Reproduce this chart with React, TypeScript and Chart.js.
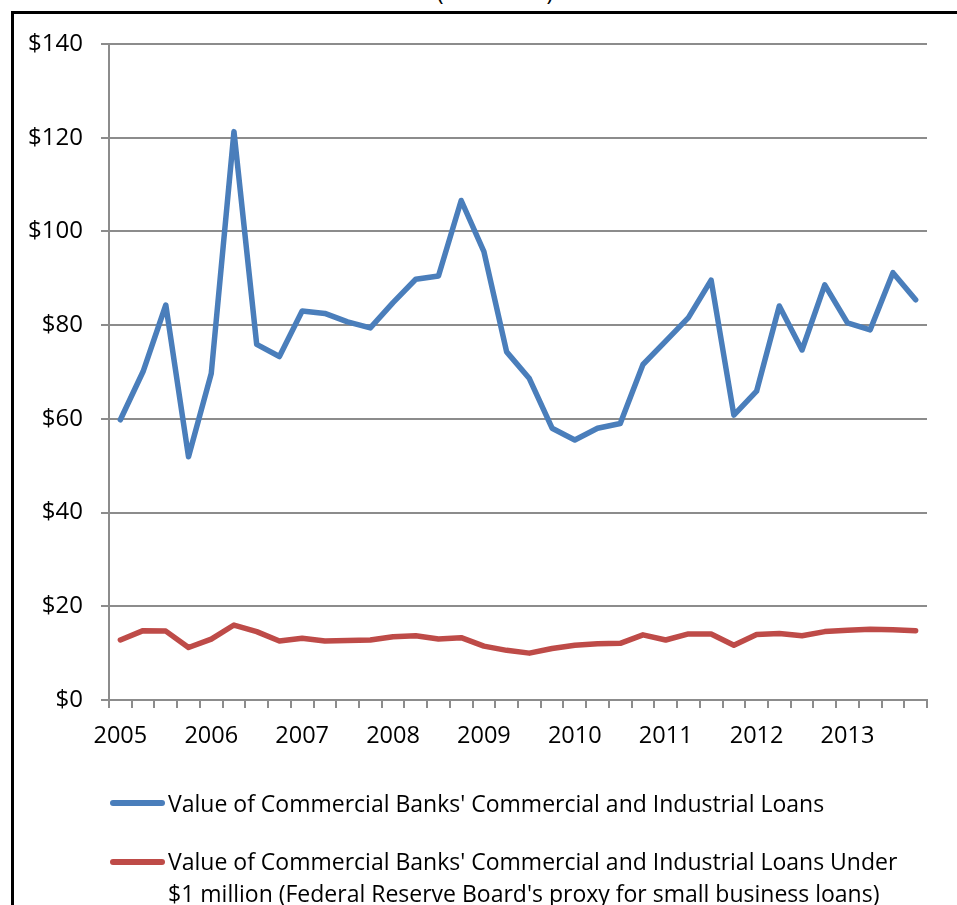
import React, { useEffect, useRef } from "react";
import { Chart, registerables } from "chart.js";

Chart.register(...registerables);

const years = ["2005", "2006", "2007", "2008", "2009", "2010", "2011", "2012", "2013"];
const quarters = ["Q1", "Q2", "Q3", "Q4"];

// Billions of dollars, quarterly 2005 Q1 – 2013 Q4
const allLoans = [
  59.8, 70.1, 84.3, 51.9, 69.7, 121.3, 75.9, 73.3,
  83.0, 82.5, 80.7, 79.4, 84.8, 89.8, 90.5, 106.6,
  95.7, 74.3, 68.6, 58.0, 55.5, 58.0, 59.0, 71.6,
  76.6, 81.6, 89.6, 60.8, 65.9, 84.1, 74.7, 88.6,
  80.5, 79.0, 91.2, 85.4,
];
const smallLoans = [
  12.8, 14.8, 14.7, 11.2, 13.0, 16.0, 14.6, 12.6,
  13.2, 12.6, 12.7, 12.8, 13.5, 13.7, 13.0, 13.3,
  11.5, 10.6, 10.0, 11.0, 11.7, 12.0, 12.1, 13.9,
  12.8, 14.1, 14.1, 11.7, 14.0, 14.2, 13.7, 14.6,
  14.9, 15.1, 15.0, 14.8,
];

const seriesNames = [
  "Value of Commercial Banks' Commercial and Industrial Loans",
  "Value of Commercial Banks' Commercial and Industrial Loans Under",
  "$1 million (Federal Reserve Board's proxy for small business loans)",
];
const titleText = "(in Billions)";

const BLUE = "#4A7EBB";
const RED = "#BE4B48";
const GRID = "#8c8c8c";
const FONT = "'Open Sans', sans-serif";

const categories = years.flatMap((y) => quarters.map((q) => `${y} ${q}`));

export default function App() {
  const ref = useRef<HTMLCanvasElement | null>(null);

  useEffect(() => {
    if (!ref.current) return;
    const chart = new Chart(ref.current, {
      type: "line",
      data: {
        labels: categories,
        datasets: [
          {
            label: seriesNames[0],
            data: allLoans,
            borderColor: BLUE,
            backgroundColor: BLUE,
            borderWidth: 5.5,
            pointRadius: 0,
            tension: 0,
            borderCapStyle: "round",
            borderJoinStyle: "round",
          },
          {
            label: seriesNames[1] + " " + seriesNames[2],
            data: smallLoans,
            borderColor: RED,
            backgroundColor: RED,
            borderWidth: 5.5,
            pointRadius: 0,
            tension: 0,
            borderCapStyle: "round",
            borderJoinStyle: "round",
          },
        ],
      },
      options: {
        animation: false,
        responsive: false,
        maintainAspectRatio: false,
        layout: { padding: { left: 0, top: 44, right: 30, bottom: 145 } },
        plugins: {
          legend: { display: false },
          tooltip: { enabled: false },
          title: { display: false },
        },
        scales: {
          x: {
            type: "category",
            offset: true,
            grid: {
              offset: true,
              drawOnChartArea: false,
              drawTicks: true,
              tickLength: 8,
              tickColor: GRID,
              lineWidth: 2,
            },
            border: { display: true, color: GRID, width: 2 },
            ticks: {
              autoSkip: false,
              maxRotation: 0,
              minRotation: 0,
              padding: 14,
              color: "#000",
              font: { family: FONT, size: 23.5 },
              callback: (_v: any, i: number) => (i % 4 === 0 ? years[i / 4] : ""),
            },
            afterFit: (s: any) => {
              s.height = 60;
            },
          },
          y: {
            min: 0,
            max: 140,
            grid: {
              color: GRID,
              lineWidth: 2,
              drawTicks: true,
              tickLength: 8,
              tickColor: GRID,
            },
            border: { display: true, color: GRID, width: 2 },
            ticks: {
              stepSize: 20,
              padding: 18,
              color: "#000",
              font: { family: FONT, size: 24 },
              callback: (v: any) => "$" + v,
            },
            afterFit: (s: any) => {
              s.width = 109;
            },
          },
        },
      },
    });
    return () => chart.destroy();
  }, []);

  const textStyle: React.CSSProperties = {
    position: "absolute",
    left: 168,
    fontFamily: FONT,
    fontSize: 23,
    lineHeight: "32px",
    color: "#000",
    whiteSpace: "nowrap",
  };
  const swatch = (color: string, top: number): React.CSSProperties => ({
    position: "absolute",
    left: 110,
    top: top - 3,
    width: 55,
    height: 6,
    borderRadius: 3,
    background: color,
  });

  return (
    <div
      style={{
        position: "absolute",
        left: 0,
        top: 0,
        width: 957,
        height: 905,
        overflow: "hidden",
        background: "#fff",
      }}
    >
      <div
        style={{
          position: "absolute",
          left: 0,
          width: 990,
          top: -25,
          textAlign: "center",
          fontFamily: FONT,
          fontSize: 23,
          lineHeight: "32px",
          color: "#000",
        }}
      >
        {titleText}
      </div>
      <div
        style={{
          position: "absolute",
          left: 11,
          top: 11,
          width: 2000,
          height: 2000,
          border: "3px solid #000",
        }}
      />
      <canvas
        ref={ref}
        width={957}
        height={905}
        style={{ position: "absolute", left: 0, top: 0, width: 957, height: 905 }}
      />
      <div style={swatch(BLUE, 803)} />
      <div style={{ ...textStyle, top: 786.5 }}>{seriesNames[0]}</div>
      <div style={swatch(RED, 862)} />
      <div style={{ ...textStyle, top: 844.5 }}>
        {seriesNames[1]}
        <br />
        {seriesNames[2]}
      </div>
    </div>
  );
}
